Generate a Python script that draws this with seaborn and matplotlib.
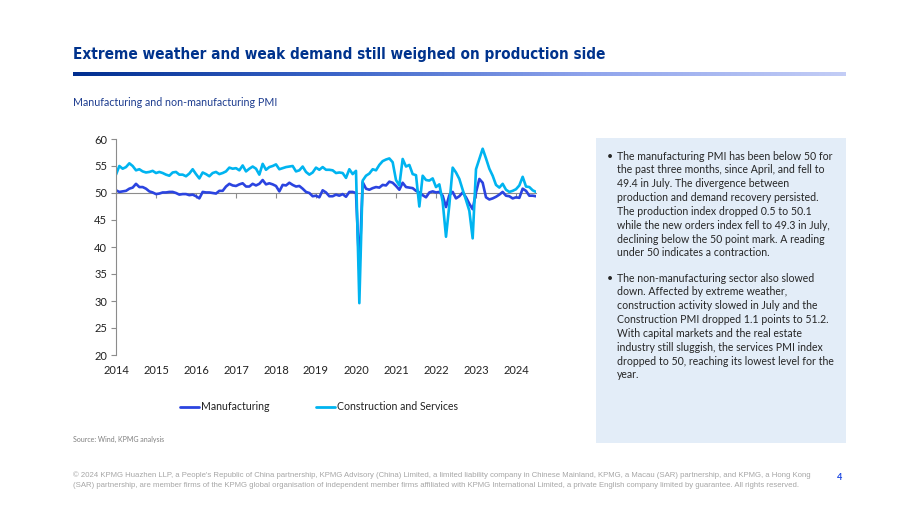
import numpy as np
import pandas as pd
import seaborn as sns
import matplotlib.pyplot as plt
from matplotlib import font_manager
from matplotlib.colors import LinearSegmentedColormap

# colours
KPMG_BLUE = "#00338D"
MANU_BLUE = "#2B44E0"
NONMANU_BLUE = "#00B4F0"
BOX_BLUE = "#E3EDF8"

sns.set_theme(style="white")

# ----------------------------------------------------------------------
# DATA (monthly, Jan 2014 - Jul 2024)
# ----------------------------------------------------------------------
manufacturing = [
    50.5, 50.2, 50.3, 50.4, 50.8, 51.0, 51.7, 51.1, 51.1, 50.8, 50.3, 50.1,
    49.8, 49.9, 50.1, 50.1, 50.2, 50.2, 50.0, 49.7, 49.8, 49.8, 49.6, 49.7,
    49.4, 49.0, 50.2, 50.1, 50.1, 50.0, 49.9, 50.4, 50.4, 51.2, 51.7, 51.4,
    51.3, 51.6, 51.8, 51.2, 51.2, 51.7, 51.4, 51.7, 52.4, 51.6, 51.8, 51.6,
    51.3, 50.3, 51.5, 51.4, 51.9, 51.5, 51.2, 51.3, 50.8, 50.2, 50.0, 49.4,
    49.5, 49.2, 50.5, 50.1, 49.4, 49.4, 49.7, 49.5, 49.8, 49.3, 50.2, 50.2,
    50.0, 35.7, 52.0, 50.8, 50.6, 50.9, 51.1, 51.0, 51.5, 51.4, 52.1, 51.9,
    51.3, 50.6, 51.9, 51.1, 51.0, 50.9, 50.4, 50.1, 49.6, 49.2, 50.1, 50.3,
    50.1, 50.2, 49.5, 47.4, 49.6, 50.2, 49.0, 49.4, 50.1, 49.2, 48.0, 47.0,
    50.1, 52.6, 51.9, 49.2, 48.8, 49.0, 49.3, 49.7, 50.2, 49.5, 49.4, 49.0,
    49.2, 49.1, 50.8, 50.4, 49.5, 49.5, 49.4,
]
construction_services = [
    53.4, 55.0, 54.5, 54.8, 55.5, 55.0, 54.2, 54.4, 54.0, 53.8, 53.9, 54.1,
    53.7, 53.9, 53.7, 53.4, 53.2, 53.8, 53.9, 53.4, 53.4, 53.1, 53.6, 54.4,
    53.5, 52.7, 53.8, 53.5, 53.1, 53.7, 53.9, 53.5, 53.7, 54.0, 54.7, 54.5,
    54.6, 54.2, 55.1, 54.0, 54.5, 54.9, 54.5, 53.4, 55.4, 54.3, 54.8, 55.0,
    55.3, 54.4, 54.6, 54.8, 54.9, 55.0, 54.0, 54.2, 54.9, 53.9, 53.4, 53.8,
    54.7, 54.3, 54.8, 54.3, 54.3, 54.2, 53.7, 53.8, 53.7, 52.8, 54.4, 53.5,
    54.1, 29.6, 52.3, 53.2, 53.6, 54.4, 54.2, 55.2, 55.9, 56.2, 56.4, 55.7,
    52.4, 51.4, 56.3, 54.9, 55.2, 53.5, 53.3, 47.5, 53.2, 52.4, 52.3, 52.7,
    51.1, 51.6, 48.4, 41.9, 47.8, 54.7, 53.8, 52.6, 50.6, 48.7, 46.7, 41.6,
    54.4, 56.3, 58.2, 56.4, 54.5, 53.2, 51.5, 51.0, 51.7, 50.6, 50.2, 50.4,
    50.7, 51.4, 53.0, 51.2, 51.1, 50.5, 50.2,
]
years = list(range(2014, 2025))
y_ticks = [20, 25, 30, 35, 40, 45, 50, 55, 60]

series_names = ["Manufacturing", "Construction and Services"]

time = 2014 + np.arange(len(manufacturing)) / 12
df = pd.DataFrame({
    "time": np.concatenate([time, time]),
    "PMI": manufacturing + construction_services,
    "series": [series_names[0]] * len(manufacturing)
    + [series_names[1]] * len(construction_services),
})

# text panel
bullet_1 = [
    "The manufacturing PMI has been below 50 for",
    "the past three months, since April, and fell to",
    "49.4 in July. The divergence between",
    "production and demand recovery persisted.",
    "The production index dropped 0.5 to 50.1",
    "while the new orders index fell to 49.3 in July,",
    "declining below the 50 point mark. A reading",
    "under 50 indicates a contraction.",
]
bullet_2 = [
    "The non-manufacturing sector also slowed",
    "down. Affected by extreme weather,",
    "construction activity slowed in July and the",
    "Construction PMI dropped 1.1 points to 51.2.",
    "With capital markets and the real estate",
    "industry still sluggish, the services PMI index",
    "dropped to 50, reaching its lowest level for the",
    "year.",
]

# fonts
fonts = font_manager.fontManager.ttflist
BODY_FONT = ["Lato", "DejaVu Sans"]
has_condensed = any(f.name == "DejaVu Sans" and f.stretch == "condensed" for f in fonts)
if any(f.name == "Liberation Sans Narrow" for f in fonts):
    TITLE_FONT, TITLE_STRETCH = ["Liberation Sans Narrow", "DejaVu Sans"], "normal"
elif has_condensed:
    TITLE_FONT, TITLE_STRETCH = ["DejaVu Sans"], "condensed"
else:
    TITLE_FONT, TITLE_STRETCH = ["Roboto", "DejaVu Sans"], "normal"
plt.rcParams["font.family"] = BODY_FONT

W, H = 920, 518
fig = plt.figure(figsize=(W / 100, H / 100), dpi=100)


def fx(px):
    return px / W


def fy(py):
    return 1 - py / H


# ----------------------------------------------------------------------
# HEADER
# ----------------------------------------------------------------------
title = fig.text(fx(73), fy(54), "Extreme weather and weak demand still weighed on production side",
                 fontsize=17, fontweight="heavy", fontstretch=TITLE_STRETCH,
                 color=KPMG_BLUE, family=TITLE_FONT, va="center", ha="left")
# squeeze title to its width in the reference
fig.canvas.draw()
bb = title.get_window_extent()
title.set_fontsize(17 * min(1.0, (605 - 73) / bb.width))

# gradient bar
gax = fig.add_axes([fx(73), fy(76.5), fx(846) - fx(73), (76.5 - 72) / H])
grad = np.linspace(0, 1, 256).reshape(1, -1)
cmap = LinearSegmentedColormap.from_list("kpmg", ["#002E8F", "#3A64C8", "#8FA4EC", "#C3CDF6"])
gax.imshow(grad, aspect="auto", cmap=cmap, extent=[0, 1, 0, 1])
gax.axis("off")

fig.text(fx(73), fy(103), "Manufacturing and non-manufacturing PMI", fontsize=7.7,
         color="#1D3C8F", va="center", ha="left")

# ----------------------------------------------------------------------
# CHART
# ----------------------------------------------------------------------
ax = fig.add_axes([fx(116), fy(355), fx(536) - fx(116), (355 - 139) / H])
sns.lineplot(data=df, x="time", y="PMI", hue="series", hue_order=series_names,
             palette=[MANU_BLUE, NONMANU_BLUE], linewidth=1.9, ax=ax, legend=False)

ax.set_xlim(2014, 2014 + (len(manufacturing) - 1) / 12)
ax.set_ylim(20, 60)
ax.set_yticks(y_ticks)
ax.set_xticks(years)
ax.set_xlabel("")
ax.set_ylabel("")
ax.grid(False)
ax.patch.set_alpha(0)

for side in ["top", "right"]:
    ax.spines[side].set_visible(False)
ax.spines["left"].set_color("#8C8C8C")
ax.spines["left"].set_linewidth(0.8)
ax.spines["bottom"].set_position(("data", 50))
ax.spines["bottom"].set_color("#8C8C8C")
ax.spines["bottom"].set_linewidth(0.8)
ax.spines["bottom"].set_zorder(0)
ax.tick_params(axis="y", direction="out", length=3.5, width=0.8, color="#8C8C8C",
               labelsize=8, labelcolor="#222222", pad=3, left=True)
ax.tick_params(axis="x", direction="out", length=3.5, width=0.8, color="#8C8C8C",
               labelbottom=False, bottom=True)

# year labels sit at the bottom of the plot
sec = ax.secondary_xaxis(0)
sec.set_xticks(years)
sec.tick_params(length=0, labelsize=8, labelcolor="#222222", pad=7)
sec.spines["bottom"].set_visible(False)

handles = [plt.Line2D([], [], color=c, lw=2) for c in [MANU_BLUE, NONMANU_BLUE]]
fig.legend(handles, series_names, loc="center", bbox_to_anchor=(fx(319), fy(407)),
           ncol=2, frameon=False, fontsize=7.6, handlelength=1.85, handletextpad=0.15,
           columnspacing=4.4, labelcolor="#222222")

fig.text(fx(73), fy(439), "Source: Wind, KPMG analysis", fontsize=5,
         color="#808080", va="center", ha="left")

# ----------------------------------------------------------------------
# TEXT PANEL
# ----------------------------------------------------------------------
fig.patches.append(plt.Rectangle((fx(596), fy(443)), fx(846) - fx(596), (443 - 138) / H,
                                 transform=fig.transFigure, facecolor=BOX_BLUE,
                                 edgecolor="none", zorder=0))
step = 13.85
for start, lines in [(156, bullet_1), (278, bullet_2)]:
    fig.text(fx(607), fy(start), "•", fontsize=7.6, color="#262626", va="center", ha="left")
    for i, line in enumerate(lines):
        fig.text(fx(617), fy(start + i * step), line, fontsize=7.6, color="#262626",
                 va="center", ha="left")

# ----------------------------------------------------------------------
# FOOTER
# ----------------------------------------------------------------------
footer = [
    "\u00a9 2024 KPMG Huazhen LLP, a People's Republic of China partnership, KPMG Advisory (China) Limited, "
    "a limited liability company in Chinese Mainland, KPMG, a Macau (SAR) partnership, and KPMG, a Hong Kong",
    "(SAR) partnership, are member firms of the KPMG global organisation of independent member firms affiliated "
    "with KPMG International Limited, a private English company limited by guarantee. All rights reserved.",
]
for i, line in enumerate(footer):
    fig.text(fx(73), fy(475 + i * 10.5), line, fontsize=5.6, color="#A6A6A6",
             family=["Liberation Sans", "DejaVu Sans"], va="center", ha="left")
fig.text(fx(840), fy(478), "4", fontsize=6.5, fontweight="bold", color="#1E49E2",
         va="center", ha="center")

fig.savefig("out.png", dpi=100)
